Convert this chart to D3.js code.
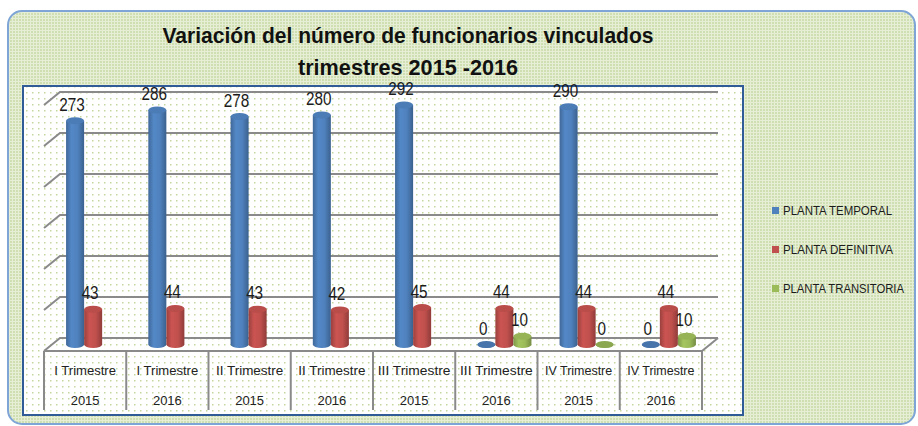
<!DOCTYPE html>
<html>
<head>
<meta charset="utf-8">
<script src="https://cdn.jsdelivr.net/npm/d3@7"></script>
<style>
  body { margin: 0; background: #fff; }
  svg { display: block; }
</style>
</head>
<body>
<script>
const categories = ['I Trimestre 2015', 'I Trimestre 2016', 'II Trimestre 2015', 'II Trimestre 2016',
  'III Trimestre 2015', 'III Trimestre 2016', 'IV Trimestre 2015', 'IV Trimestre 2016']
const seriesNames = ['PLANTA TEMPORAL', 'PLANTA DEFINITIVA', 'PLANTA TRANSITORIA']
const temporal = [273, 286, 278, 280, 292, 0, 290, 0]
const definitiva = [43, 44, 43, 42, 45, 44, 44, 44]
const transitoria = [null, null, null, null, null, 10, 0, 10]
const yTicks = [0, 50, 100, 150, 200, 250, 300]
const titleLines = ['Variación del número de funcionarios vinculados', 'trimestres 2015 -2016']

const colors = ['#4f81bd', '#c0504d', '#9bbb59']
const seriesValues = [temporal, definitiva, transitoria]
const condensed = '"Liberation Sans", Arial, sans-serif'

const svg = d3.select('body').append('svg')
  .attr('width', 918)
  .attr('height', 426)

const defs = svg.append('defs')

// outer background texture
const outerPat = defs.append('pattern')
  .attr('id', 'outerPat')
  .attr('width', 3)
  .attr('height', 3)
  .attr('patternUnits', 'userSpaceOnUse')
outerPat.append('rect').attr('width', 3).attr('height', 3).attr('fill', '#cfdfb1')
outerPat.append('rect').attr('width', 3).attr('height', 1).attr('fill', '#e6efd6')
outerPat.append('rect').attr('width', 1).attr('height', 3).attr('fill', '#e6efd6')

// plot area dots
const innerPat = defs.append('pattern')
  .attr('id', 'innerPat')
  .attr('width', 6)
  .attr('height', 6)
  .attr('patternUnits', 'userSpaceOnUse')
innerPat.append('rect').attr('width', 6).attr('height', 6).attr('fill', '#ffffff')
innerPat.append('rect').attr('x', 2).attr('y', 2).attr('width', 1.5).attr('height', 1.5).attr('fill', '#c3d79f')

colors.forEach((c, i) => {
  const base = d3.color(c)
  const g = defs.append('linearGradient')
    .attr('id', 'cyl' + i)
    .attr('x1', 0).attr('x2', 1).attr('y1', 0).attr('y2', 0)
  g.append('stop').attr('offset', '0%').attr('stop-color', base.darker(0.6))
  g.append('stop').attr('offset', '30%').attr('stop-color', base.brighter(0.15))
  g.append('stop').attr('offset', '65%').attr('stop-color', base)
  g.append('stop').attr('offset', '100%').attr('stop-color', base.darker(0.8))
})

svg.append('rect')
  .attr('x', 8)
  .attr('y', 11)
  .attr('width', 907)
  .attr('height', 413)
  .attr('rx', 14)
  .attr('fill', 'url(#outerPat)')
  .attr('stroke', '#7ea5d6')
  .attr('stroke-width', 2)

svg.append('rect')
  .attr('x', 23)
  .attr('y', 86)
  .attr('width', 720)
  .attr('height', 329)
  .attr('fill', 'url(#innerPat)')
  .attr('stroke', '#2f5b97')
  .attr('stroke-width', 2)

svg.selectAll('.title')
  .data(titleLines)
  .enter().append('text')
  .attr('class', 'title')
  .attr('x', 408)
  .attr('y', (d, i) => 43 + i * 32)
  .attr('text-anchor', 'middle')
  .attr('font-family', condensed)
  .attr('font-weight', 'bold')
  .attr('font-size', 22.5)
  .attr('fill', '#111')
  .attr('textLength', (d, i) => i === 0 ? 491 : 220)
  .attr('lengthAdjust', 'spacingAndGlyphs')
  .text(d => d)

const depth = {dx: 16, dy: 13}
const x = d3.scaleBand()
  .domain(categories)
  .range([44, 702])
const xs = d3.scaleBand()
  .domain(seriesNames)
  .range([0, x.bandwidth()])
  .paddingInner(0)
  .paddingOuter(0.78)
const y = d3.scaleLinear()
  .domain([0, 300])
  .range([338, 92])

const floorFront = y(0) + depth.dy

// back wall gridlines with left wall diagonals
svg.append('g')
  .selectAll('path')
  .data(yTicks)
  .enter().append('path')
  .attr('d', t => 'M' + x.range()[0] + ',' + (y(t) + depth.dy) + 'L' + (x.range()[0] + depth.dx) + ',' + y(t) +
    'L' + (x.range()[1] + depth.dx) + ',' + y(t))
  .attr('fill', 'none')
  .attr('stroke', '#8a8a8a')
  .attr('stroke-width', 2)

// floor front edge
svg.append('path')
  .attr('d', 'M' + x.range()[0] + ',' + floorFront + 'L' + x.range()[1] + ',' + floorFront +
    'L' + (x.range()[1] + depth.dx) + ',' + y(0))
  .attr('fill', 'none')
  .attr('stroke', '#8a8a8a')
  .attr('stroke-width', 2)

// category table separators
const seps = categories.map(c => x(c)).concat([x.range()[1]])
svg.append('g')
  .selectAll('line')
  .data(seps)
  .enter().append('line')
  .attr('x1', d => d)
  .attr('x2', d => d)
  .attr('y1', floorFront)
  .attr('y2', 410)
  .attr('stroke', '#8a8a8a')
  .attr('stroke-width', 2)

const catLabels = svg.append('g')
  .selectAll('text')
  .data(categories)
  .enter().append('text')
  .attr('x', d => x(d) + x.bandwidth() / 2)
  .attr('text-anchor', 'middle')
  .attr('font-family', condensed)
  .attr('font-size', 13)
  .attr('fill', '#222')
catLabels.append('tspan')
  .attr('x', d => x(d) + x.bandwidth() / 2)
  .attr('y', 375)
  .attr('textLength', d => d.slice(0, d.lastIndexOf(' ')).length * 5.6)
  .attr('lengthAdjust', 'spacingAndGlyphs')
  .text(d => d.slice(0, d.lastIndexOf(' ')))
catLabels.append('tspan')
  .attr('x', d => x(d) + x.bandwidth() / 2)
  .attr('y', 405)
  .text(d => d.slice(d.lastIndexOf(' ') + 1))

// bars as cylinders
const bars = []
categories.forEach((c, ci) => {
  seriesNames.forEach((s, si) => {
    const v = seriesValues[si][ci]
    if (v === null) return
    bars.push({cat: c, series: s, si: si, value: v})
  })
})

const rx = xs.bandwidth() / 2
const ry = 3.5
const cx = d => x(d.cat) + xs(d.series) + rx + depth.dx / 2
const barBase = y(0) + depth.dy / 2
const barTop = d => y(d.value) + depth.dy / 2

const barG = svg.append('g')
  .selectAll('g')
  .data(bars)
  .enter().append('g')

barG.append('path')
  .attr('d', d => 'M' + (cx(d) - rx) + ',' + barTop(d) + 'L' + (cx(d) - rx) + ',' + barBase +
    'A' + rx + ',' + ry + ' 0 0 0 ' + (cx(d) + rx) + ',' + barBase +
    'L' + (cx(d) + rx) + ',' + barTop(d) + 'Z')
  .attr('fill', d => 'url(#cyl' + d.si + ')')

barG.append('ellipse')
  .attr('cx', cx)
  .attr('cy', barTop)
  .attr('rx', rx)
  .attr('ry', ry)
  .attr('fill', d => d3.color(colors[d.si]).darker(d.value === 0 ? 0.3 : 0.1))

svg.append('g')
  .selectAll('text')
  .data(bars)
  .enter().append('text')
  .attr('x', d => cx(d) - 3)
  .attr('y', d => barTop(d) - 10)
  .attr('text-anchor', 'middle')
  .attr('font-family', condensed)
  .attr('font-size', 17.5)
  .attr('fill', '#1b1b1b')
  .attr('textLength', d => String(d.value).length * 8.5)
  .attr('lengthAdjust', 'spacingAndGlyphs')
  .text(d => d.value)

// legend
const legendWidths = [109, 110, 121]
const legend = svg.append('g')
  .selectAll('g')
  .data(seriesNames)
  .enter().append('g')
  .attr('transform', (d, i) => 'translate(772,' + (207 + i * 39) + ')')

legend.append('rect')
  .attr('width', 7)
  .attr('height', 7)
  .attr('fill', (d, i) => colors[i])

legend.append('text')
  .attr('x', 11)
  .attr('y', 8)
  .attr('font-family', condensed)
  .attr('font-size', 12)
  .attr('fill', '#1b1b1b')
  .attr('textLength', (d, i) => legendWidths[i])
  .attr('lengthAdjust', 'spacingAndGlyphs')
  .text(d => d)
</script>
</body>
</html>
